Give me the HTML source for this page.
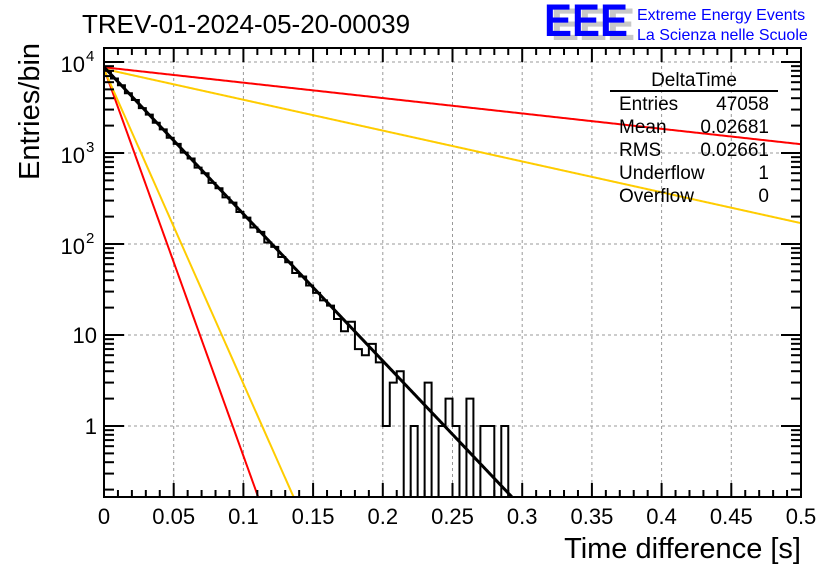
<!DOCTYPE html>
<html><head><meta charset="utf-8"><style>
body{margin:0;background:#fff;}
svg{display:block;font-family:"Liberation Sans",Arial,sans-serif;}
</style></head><body>
<svg id="c" width="836" height="572" xmlns="http://www.w3.org/2000/svg">
<rect width="836" height="572" fill="#fff"/>
<g id="grid"></g>
<g id="marks"></g>
<g id="axes"></g>
<text x="82" y="33" font-size="26">TREV-01-2024-05-20-00039</text>
<g>
<text x="551" y="40" font-size="45" font-weight="bold" fill="#c8c8c8" textLength="84" lengthAdjust="spacingAndGlyphs">EEE</text>
<text x="544" y="36" font-size="45" font-weight="bold" fill="#0000ff" textLength="84" lengthAdjust="spacingAndGlyphs">EEE</text>
<text x="637" y="20" font-size="16" fill="#0000ff">Extreme Energy Events</text>
<text x="637" y="40" font-size="16" fill="#0000ff">La Scienza nelle Scuole</text>
</g>
<g font-size="19">
<text x="694" y="86" text-anchor="middle">DeltaTime</text>
<line x1="610" y1="91" x2="778" y2="91" stroke="#000" stroke-width="2"/>
<text x="619" y="110">Entries</text><text x="769" y="110" text-anchor="end">47058</text>
<text x="619" y="133">Mean</text><text x="769" y="133" text-anchor="end">0.02681</text>
<text x="619" y="156">RMS</text><text x="769" y="156" text-anchor="end">0.02661</text>
<text x="619" y="179">Underflow</text><text x="769" y="179" text-anchor="end">1</text>
<text x="619" y="202">Overflow</text><text x="769" y="202" text-anchor="end">0</text>
</g>
<text x="801" y="558" font-size="29" text-anchor="end">Time difference [s]</text>
<text transform="translate(39,180) rotate(-90)" font-size="29" text-anchor="start">Entries/bin</text>
</svg>
<script>
const binWidth = 0.005;
const counts = [8050,6590,5560,4530,3820,3110,2640,2150,1820,1470,1260,1010,870,690,600,470,410,325,285,225,195,152,136,104,93,72,63,48,44,35,29,24,21,15,11,14,7,6,8,5,1,3,4,0,1,0,3,0,1,2,1,0,2,0,1,1,0,1,0,0,0,0,0,0,0,0,0,0,0,0,0,0,0,0,0,0,0,0,0,0,0,0,0,0,0,0,0,0,0,0,0,0,0,0,0,0,0,0,0,0];
const fitBlack = {a:8800, tau:0.0269};
const fitRedSteep = {a:8500, tau:0.0102};
const fitYellowSteep = {a:8300, tau:0.01257};
const fitRedShallow = {a:8750, tau:0.2568};
const fitYellowShallow = {a:8400, tau:0.1281};
const xTicks = [0,0.05,0.1,0.15,0.2,0.25,0.3,0.35,0.4,0.45,0.5];
const xTickLabels = ["0","0.05","0.1","0.15","0.2","0.25","0.3","0.35","0.4","0.45","0.5"];
const yTicks = [1,10,100,1000,10000];

const L=104,R=801,T=48,B=497;
const X=v=>L+(v-0)/(0.5)*(R-L);
const Y=v=>426-Math.log10(v)*91;
const NS='http://www.w3.org/2000/svg';
function mk(tag,attrs,parent){const e=document.createElementNS(NS,tag);for(const k in attrs)e.setAttribute(k,attrs[k]);parent.appendChild(e);return e;}
const grid=document.getElementById('grid'),marks=document.getElementById('marks'),axes=document.getElementById('axes');
const clampY=y=>Math.max(T,Math.min(B,y));
xTicks.forEach((t,i)=>{if(i>0&&i<xTicks.length-1){const g=mk('line',{x1:X(t),x2:X(t),y1:T,y2:B,stroke:'#999','stroke-dasharray':'3,3'},grid);}});
yTicks.forEach(t=>{const g=mk('line',{x1:L,x2:R,y1:Y(t),y2:Y(t),stroke:'#999','stroke-dasharray':'3,3'},grid);});
let d='';
counts.forEach((c,i)=>{const x0=X(i*binWidth),x1=X((i+1)*binWidth);const y=c>0?clampY(Y(c)):B;d+=(i===0?'M'+x0+','+y:'L'+x0+','+y)+'L'+x1+','+y;});
const h=mk('path',{d:d,fill:'none',stroke:'#000','stroke-width':2},marks);


function curve(f,color,w,name){let p='';for(let k=0;k<=700;k++){const x=k/700*0.5;const v=f.a*Math.exp(-x/f.tau);const y=Y(v);if(y>B){const xb=-f.tau*Math.log(Math.pow(10,(426-B)/91)/f.a);p+='L'+X(xb)+','+B;break;}p+=(k===0?'M':'L')+X(x)+','+y;}
const e=mk('path',{d:p,fill:'none',stroke:color,'stroke-width':w},marks);

}
curve(fitRedShallow,'#ff0000',2,'red-shallow-curve');
curve(fitYellowShallow,'#ffcc00',2,'yellow-shallow-curve');
curve(fitRedSteep,'#ff0000',2,'red-steep-curve');
curve(fitYellowSteep,'#ffcc00',2,'yellow-steep-curve');
curve(fitBlack,'#000',3,'exponential-fit');
const fr=mk('rect',{x:L,y:T,width:R-L,height:B-T,fill:'none',stroke:'#000','stroke-width':2},axes);


for(let k=0;k<=50;k++){const x=X(k*0.01);const len=k%5===0?14:7;mk('line',{x1:x,x2:x,y1:B,y2:B-len,stroke:'#000','stroke-width':2},axes);mk('line',{x1:x,x2:x,y1:T,y2:T+len,stroke:'#000','stroke-width':2},axes);}
xTicks.forEach((t,i)=>{const e=mk('text',{x:X(t),y:524,'font-size':22,'text-anchor':'middle'},axes);e.textContent=xTickLabels[i];});
for(let dec=-1;dec<=4;dec++){for(let m=1;m<=9;m++){const v=m*Math.pow(10,dec);const y=Y(v);if(y<T||y>B)continue;const len=m===1?20:10;mk('line',{x1:L,x2:L+len,y1:y,y2:y,stroke:'#000','stroke-width':2},axes);mk('line',{x1:R,x2:R-len,y1:y,y2:y,stroke:'#000','stroke-width':2},axes);}}
yTicks.forEach(t=>{const p=Math.round(Math.log10(t));
if(p<2){const e=mk('text',{x:97,y:Y(t)+8,'font-size':22,'text-anchor':'end'},axes);e.textContent=String(t);}
else{const e=mk('text',{x:85,y:Y(t)+10,'font-size':22,'text-anchor':'end'},axes);e.textContent='10';
const s=mk('text',{x:86,y:Y(t)-1,'font-size':15,'text-anchor':'start'},axes);s.textContent=String(p);}});
</script>
</body></html>
